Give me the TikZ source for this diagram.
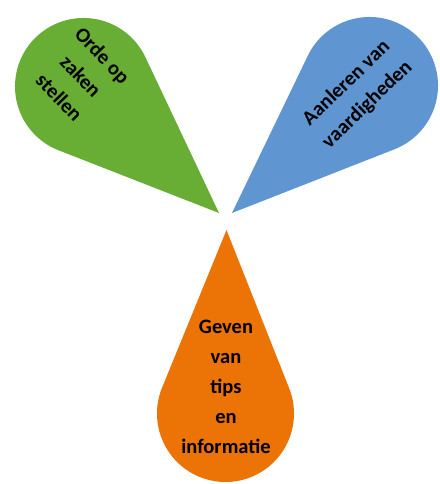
\documentclass[tikz,border=0pt]{standalone}
\usepackage{fontspec}
\setmainfont{Carlito}
\definecolor{dropgreen}{HTML}{68AE35}
\definecolor{dropblue}{HTML}{5F95D0}
\definecolor{droporange}{HTML}{EC7406}
\tikzset{
  droptext/.style={align=center, inner sep=0pt, font=\bfseries\fontsize{20.5}{30}\selectfont, text=black}
}
\begin{document}
\begin{tikzpicture}[x=1pt,y=1pt]
\useasboundingbox (0,0) rectangle (439,484);
% green drop
\coordinate (gT) at (219,271);
\coordinate (gC) at (83.5,397.5);
\fill[dropgreen] (gT) -- ([shift={(25.3:68.5pt)}]gC) arc[start angle=25.3, delta angle=223.4, radius=68.5pt] -- cycle;
% blue drop
\coordinate (bT) at (232,271);
\coordinate (bC) at (369.5,398.5);
\fill[dropblue] (bT) -- ([shift={(291.4:68.5pt)}]bC) arc[start angle=291.4, delta angle=222.8, radius=68.5pt] -- cycle;
% orange drop
\coordinate (oT) at (226.5,254);
\coordinate (oC) at (225.5,70.5);
\fill[droporange] (oT) -- ([shift={(158.1:68.5pt)}]oC) arc[start angle=158.1, delta angle=223.8, radius=68.5pt] -- cycle;
% texts
\node[droptext, rotate=-46] (gtext) at (81,407.5) {Orde op\\zaken\\stellen};
\node[droptext, rotate=44] (btext) at (357,390) {Aanleren van\\vaardigheden};
\node[droptext] (otext) at (226,97) {Geven\\van\\tips\\en\\informatie};
\end{tikzpicture}
\end{document}
